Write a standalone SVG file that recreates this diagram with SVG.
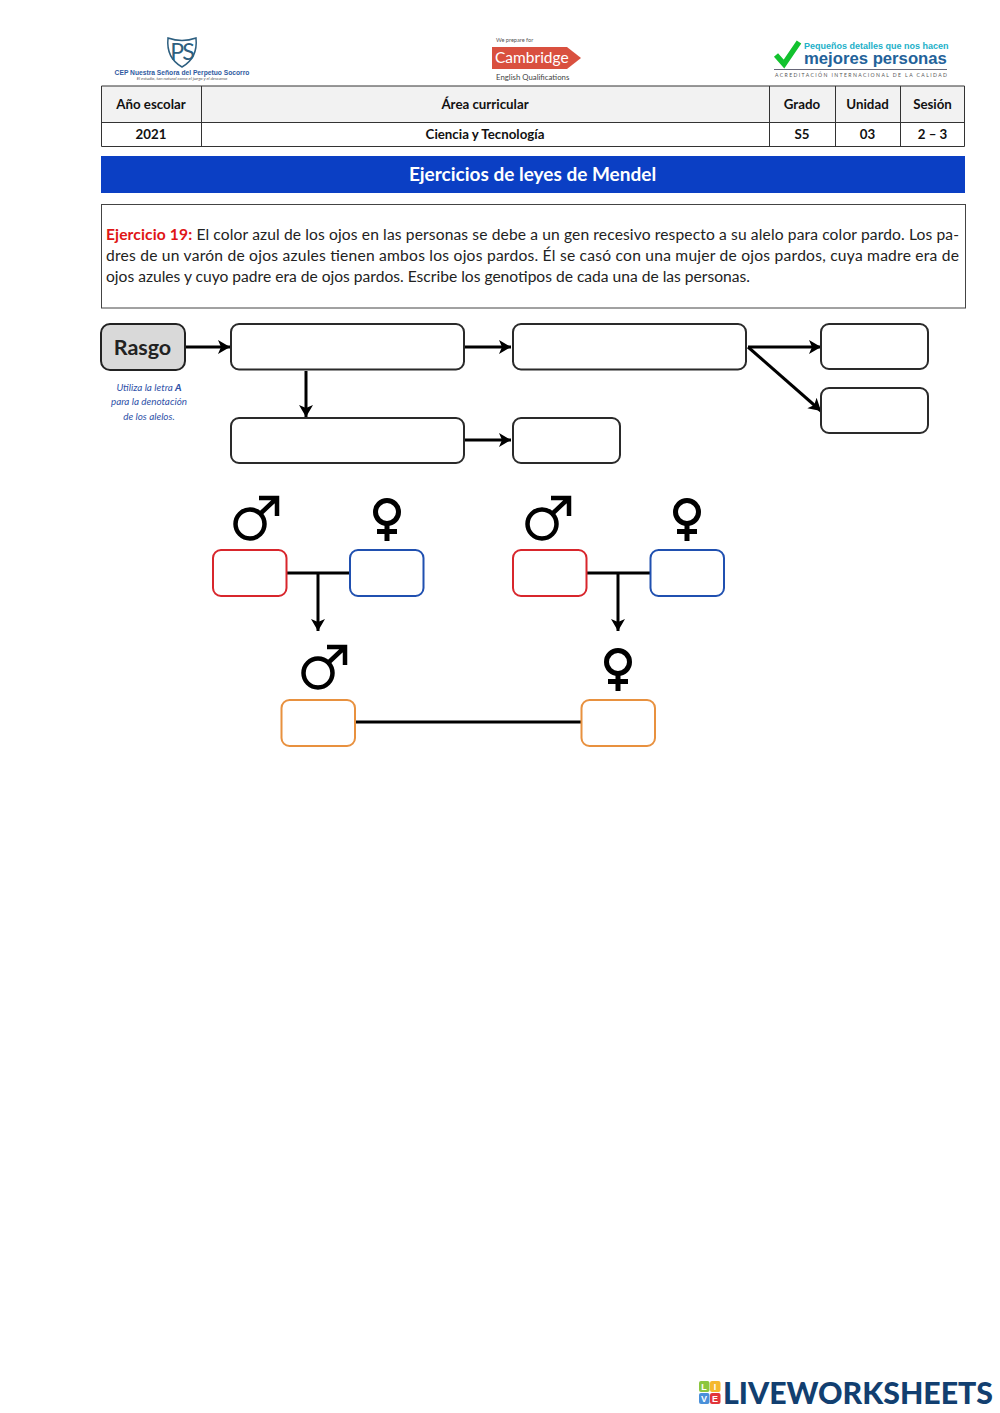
<svg xmlns="http://www.w3.org/2000/svg" width="1000" height="1413" viewBox="0 0 1000 1413">
<style>
text{font-family:"Lato","Open Sans","Liberation Sans",sans-serif}
.th{font-size:13.300px;font-weight:700;fill:#111;text-anchor:middle}
.p{font-size:15.600px;fill:#222}
.cell{stroke:#333;stroke-width:1}
.box{fill:#fff;stroke:#2a2a2a;stroke-width:2}
.sm{fill:#fff;stroke-width:2}
.con{fill:none;stroke:#000;stroke-width:3}
.thin{fill:none;stroke:#000;stroke-width:3}
.note{font-size:9.900px;font-style:italic;fill:#2f52a8;text-anchor:middle}
.sym{fill:none;stroke:#000}
.logo{font-family:"Liberation Sans",sans-serif;font-weight:700}
</style>
<defs>
<marker id="a" markerUnits="userSpaceOnUse" markerWidth="13" markerHeight="16" refX="12" refY="8" orient="auto"><path d="M0 1L12 8L0 15L3 8Z" fill="#000"/></marker>
<g id="male" class="sym" stroke-width="4.500"><circle cx="0" cy="0" r="14.500"/><path d="M10 -10L27 -26M9 -26H27V-8"/></g>
<g id="female" class="sym" stroke-width="5"><circle cx="0" cy="0" r="11.500"/><path d="M0 12V29M-10 19.500H10"/></g>
</defs>
<rect width="1000" height="1413" fill="#fff"/>

<g id="logo-school">
<path d="M168 38Q182 43 196 38Q198 58 182 67Q166 58 168 38Z" fill="#fff" stroke="#2d5f80" stroke-width="1.500"/>
<text x="181.500" y="60" font-family="Liberation Serif,serif" font-size="23" fill="#2d5f80" text-anchor="middle" letter-spacing="-2">PS</text>
<text class="logo" x="182" y="75" font-size="6.700" fill="#2f5aa0" text-anchor="middle">CEP Nuestra Señora del Perpetuo Socorro</text>
<text x="182" y="80" font-size="4.400" font-style="italic" fill="#555" text-anchor="middle">El estudio, tan natural como el juego y el descanso</text>
</g>
<g id="logo-cambridge">
<text x="496" y="42" font-size="5.600" fill="#555">We prepare for</text>
<path d="M492 47H567L581 58L567 69H492Z" fill="#d9503f"/>
<text x="495" y="63" font-size="15.500" fill="#fff">Cambridge</text>
<text x="496" y="80" font-size="7.800" fill="#444">English Qualifications</text>
</g>
<g id="logo-acreditacion">
<path d="M776 55L784 64L799 42" fill="none" stroke="#12c22e" stroke-width="5.500"/>
<text class="logo" x="804" y="49" font-size="9" fill="#22b0c8">Pequeños detalles que nos hacen</text>
<text class="logo" x="804" y="64" font-size="16.700" fill="#23629a">mejores personas</text>
<path d="M774 69.500H947" stroke="#667" stroke-width="1"/>
<text x="775" y="76.500" font-size="5.100" letter-spacing="1.400" fill="#555">ACREDITACIÓN INTERNACIONAL DE LA CALIDAD</text>
</g>

<g id="header-table">
<rect x="101.500" y="86" width="863" height="36.500" fill="#f2f2f2"/>
<path class="cell" fill="none" d="M101.500 86H964.500V146.500H101.500ZM101.500 122.500H964.500M201.500 86V146.500M769.500 86V146.500M835.500 86V146.500M900.500 86V146.500"/>
<text class="th" x="151" y="109">Año escolar</text>
<text class="th" x="485" y="109">Área curricular</text>
<text class="th" x="802" y="109">Grado</text>
<text class="th" x="867.500" y="109">Unidad</text>
<text class="th" x="932.500" y="109">Sesión</text>
<text class="th" x="151" y="139">2021</text>
<text class="th" x="485" y="139">Ciencia y Tecnología</text>
<text class="th" x="802" y="139">S5</text>
<text class="th" x="867.500" y="139">03</text>
<text class="th" x="932.500" y="139">2 – 3</text>
</g>

<g id="title-bar">
<rect x="101" y="156" width="864" height="37" fill="#0b3fc4"/>
<text x="532.500" y="181" font-size="19" font-weight="700" fill="#fff" text-anchor="middle">Ejercicios de leyes de Mendel</text>
</g>

<g id="exercise">
<rect x="101.500" y="204.500" width="864" height="103.500" fill="#fff" stroke="#444" stroke-width="1"/>
<text class="p" x="106" y="240" textLength="853" lengthAdjust="spacing"><tspan font-weight="700" fill="#e01515">Ejercicio 19:</tspan> El color azul de los ojos en las personas se debe a un gen recesivo respecto a su alelo para color pardo. Los pa-</text>
<text class="p" x="106" y="261" textLength="853" lengthAdjust="spacing">dres de un varón de ojos azules tienen ambos los ojos pardos. Él se casó con una mujer de ojos pardos, cuya madre era de</text>
<text class="p" x="106" y="282">ojos azules y cuyo padre era de ojos pardos. Escribe los genotipos de cada una de las personas.</text>
</g>

<g id="connectors">
<path class="con" marker-end="url(#a)" d="M186 347H230"/>
<path class="con" marker-end="url(#a)" d="M465 347H511"/>
<path class="con" marker-end="url(#a)" d="M748 347H821"/>
<path class="con" marker-end="url(#a)" d="M748 347L821 411"/>
<path class="con" marker-end="url(#a)" d="M306 371V417"/>
<path class="con" marker-end="url(#a)" d="M465 440H511"/>
<path class="thin" d="M287 573H350"/>
<path class="thin" marker-end="url(#a)" d="M318 573V631"/>
<path class="thin" d="M587 573H650"/>
<path class="thin" marker-end="url(#a)" d="M618 573V631"/>
<path class="con" d="M355 722H581"/>
</g>

<g id="rasgo"><rect x="101" y="324" width="84" height="46" rx="9" fill="#d9d9d9" stroke="#222" stroke-width="2"/><text x="142.500" y="355" font-size="21.500" font-weight="700" fill="#222" text-anchor="middle">Rasgo</text></g>
<g id="note">
<text class="note" x="149" y="391">Utiliza la letra <tspan font-weight="900">A</tspan></text>
<text class="note" x="149" y="405">para la denotación</text>
<text class="note" x="149" y="420">de los alelos.</text>
</g>
<g id="n1"><rect class="box" x="231" y="324" width="233" height="45.500" rx="8"/></g>
<g id="n2"><rect class="box" x="513" y="324" width="233" height="45.500" rx="8"/></g>
<g id="n3"><rect class="box" x="821" y="324" width="107" height="45" rx="8"/></g>
<g id="n4"><rect class="box" x="821" y="388" width="107" height="45" rx="8"/></g>
<g id="n5"><rect class="box" x="231" y="418" width="233" height="45" rx="8"/></g>
<g id="n6"><rect class="box" x="513" y="418" width="107" height="45" rx="8"/></g>

<g id="p1"><use href="#male" x="250" y="524"/><rect class="sm" x="213" y="550" width="73.500" height="46" rx="8" stroke="#d8262c"/></g>
<g id="p2"><use href="#female" x="387" y="512"/><rect class="sm" x="350" y="550" width="73.500" height="46" rx="8" stroke="#2050b0"/></g>
<g id="p3"><use href="#male" x="542" y="524"/><rect class="sm" x="513" y="550" width="73.500" height="46" rx="8" stroke="#d8262c"/></g>
<g id="p4"><use href="#female" x="687" y="512"/><rect class="sm" x="650.500" y="550" width="73.500" height="46" rx="8" stroke="#2050b0"/></g>
<g id="c1"><use href="#male" x="318" y="673"/><rect class="sm" x="281.500" y="700" width="73.500" height="46" rx="8" stroke="#e8913f"/></g>
<g id="c2"><use href="#female" x="618" y="662"/><rect class="sm" x="581.500" y="700" width="73.500" height="46" rx="8" stroke="#e8913f"/></g>

<g id="liveworksheets">
<rect x="699" y="1381" width="10.500" height="11" rx="2" fill="#8cc63f"/><rect x="710" y="1381" width="10.500" height="11" rx="2" fill="#f5b82e"/>
<rect x="699" y="1393" width="10.500" height="11" rx="2" fill="#4a90d9"/><rect x="710" y="1393" width="10.500" height="11" rx="2" fill="#e2343a"/>
<text class="logo" font-size="9" fill="#fff" text-anchor="middle"><tspan x="704" y="1390">L</tspan><tspan x="715" y="1390">I</tspan><tspan x="704" y="1402">V</tspan><tspan x="715" y="1402">E</tspan></text>
<text x="723" y="1404" font-size="30.500" font-weight="900" fill="#123f70" textLength="270" lengthAdjust="spacingAndGlyphs">LIVEWORKSHEETS</text>
</g>
</svg>
